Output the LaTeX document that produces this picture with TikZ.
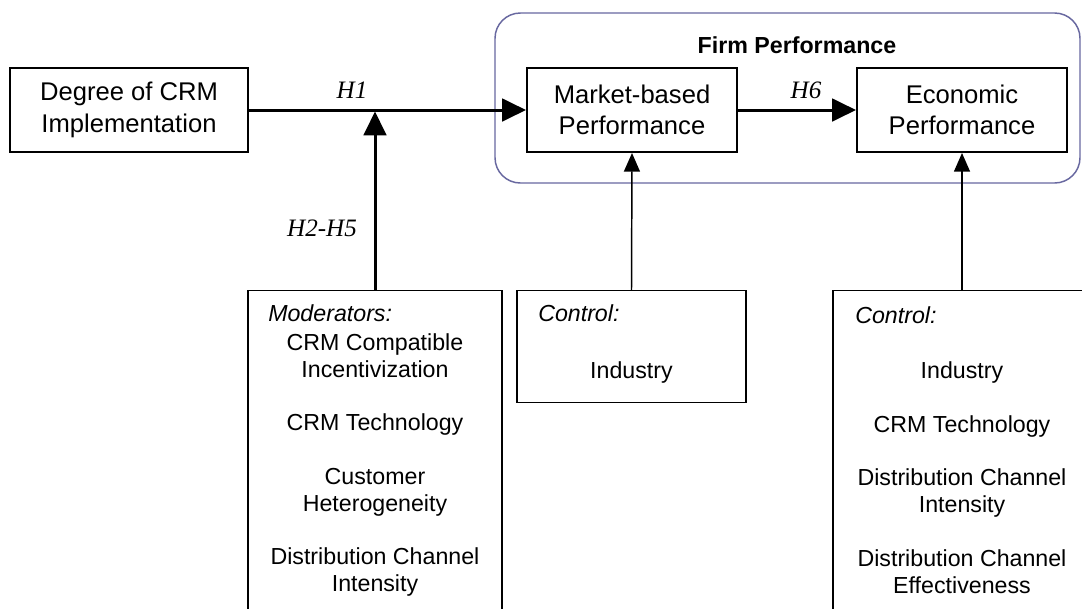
\documentclass[tikz,border=0pt]{standalone}
\usepackage{fontspec}
\setmainfont{Liberation Sans}
\newfontfamily\hypfont{Liberation Serif}
\usetikzlibrary{arrows.meta}
\definecolor{framecol}{RGB}{104,104,160}
\begin{document}
\begin{tikzpicture}[x=0.75pt,y=-0.75pt,
  mainbox/.style={draw, line width=1.5pt, align=center, inner sep=0pt,
    minimum height=63pt, font=\fontsize{19.2}{23.5}\selectfont},
  sidebox/.style={draw, line width=1.1pt, inner sep=0pt, anchor=north},
  listtext/.style={align=center, inner sep=0pt, anchor=north,
    font=\fontsize{17.4}{20.1}\selectfont},
  tagtext/.style={inner sep=0pt, anchor=north west,
    font=\fontsize{17.4}{20.1}\selectfont\itshape},
  hyp/.style={inner sep=0pt, font=\hypfont\itshape\fontsize{18.8}{20}\selectfont},
  flow/.style={line width=2.25pt, -{Triangle[length=18pt,width=17pt]}},
  feed/.style={line width=1.1pt, -{Triangle[length=14pt,width=12pt]}},
  groupframe/.style={draw=framecol, line width=1.1pt, rounded corners=19pt, inner sep=0pt}
]
\useasboundingbox (0,0) rectangle (1082,608);
\clip (0,0) rectangle (1082,608);
\fill[white] (0,0) rectangle (1082,608);

% grouping frame for the two performance measures
\node[groupframe, minimum width=438.75pt, minimum height=127.5pt] (firm) at (787.5,98) {};
\node[inner sep=0pt, font=\bfseries\fontsize{17.4}{20}\selectfont] (firmlabel) at (797,45) {Firm Performance};

% main constructs
\node[mainbox, minimum width=178.5pt] (deg) at (129,110) {Degree of CRM\\Implementation};
\node[mainbox, minimum width=157.5pt] (mkt) at (632,110) {Market-based\\Performance};
\node[mainbox, minimum width=157.5pt] (eco) at (962,110) {Economic\\Performance};

% moderator and control boxes
\node[sidebox, minimum width=190.5pt, minimum height=255pt] (mod) at (375,290) {};
\node[sidebox, minimum width=171.75pt, minimum height=84pt] (ctla) at (631.5,290) {};
\node[sidebox, minimum width=193.5pt, minimum height=255pt] (ctlb) at (962,290) {};

\node[tagtext] (modtag) at (268,304.7) {Moderators:};
\node[listtext] (modlist) at (375,333.5) {CRM Compatible\\Incentivization\\[20.1pt]CRM Technology\\[20.1pt]Customer\\Heterogeneity\\[20.1pt]Distribution Channel\\Intensity};

\node[tagtext] (ctlatag) at (538,304.7) {Control:};
\node[listtext] (ctlalist) at (631.5,361.7) {Industry};

\node[tagtext] (ctlbtag) at (855,306.7) {Control:};
\node[listtext] (ctlblist) at (962,361.7) {Industry\\[20.1pt]CRM Technology\\[20.1pt]Distribution Channel\\Intensity\\[20.1pt]Distribution Channel\\Effectiveness};

% connectors
\coordinate (join) at (mod.north |- deg.east);
\draw[flow] (deg.east) -- (mkt.west);
\draw[flow, shorten >=1.1pt] (mod.north) -- (join);
\draw[flow] (mkt.east) -- (eco.west);
\draw[feed] (ctla.north) -- (mkt.south);
\draw[feed] (ctlb.north) -- (eco.south);

% hypothesis labels
\node[hyp] (h1) at (352,90) {H1};
\node[hyp] (h6) at (806,90) {H6};
\node[hyp] (h25) at (322,228) {H2-H5};
\end{tikzpicture}
\end{document}
